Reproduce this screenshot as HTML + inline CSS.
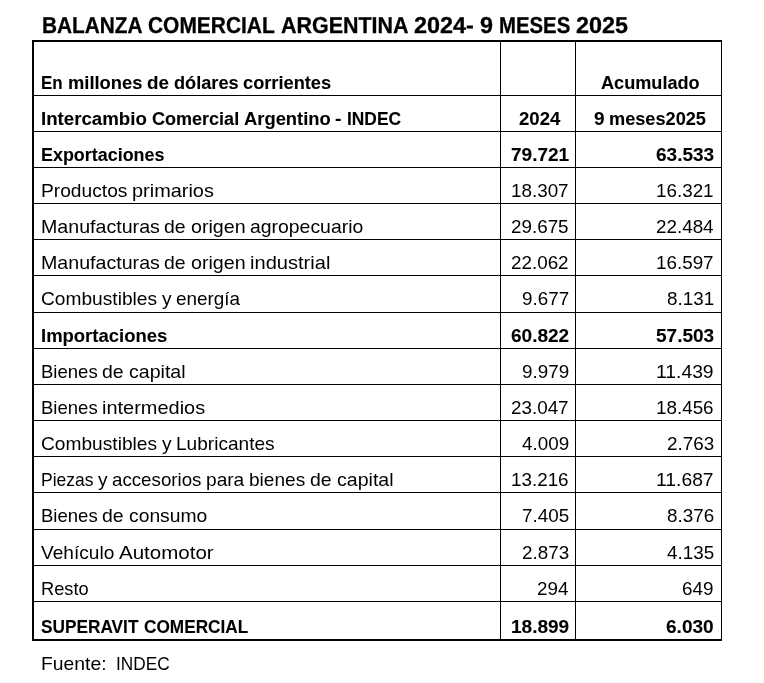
<!DOCTYPE html>
<html lang="es">
<head>
<meta charset="utf-8">
<title>Balanza Comercial Argentina 2024 - 9 meses 2025</title>
<style>
html,body{margin:0;padding:0;background:#fff}
body{position:relative;width:764px;height:683px;overflow:hidden;color:#000;
  font-family:"Liberation Sans",sans-serif;font-size:19px;line-height:24px;
  font-variant-ligatures:none}
h1{position:absolute;left:41.8px;top:10px;margin:0;font-size:23px;line-height:30px;
  font-weight:bold;white-space:nowrap;text-rendering:geometricPrecision;
  -webkit-text-stroke:0.3px #000}
table{position:absolute;left:32px;top:40px;width:690px;table-layout:fixed;
  border-collapse:separate;border-spacing:0;
  border-top:2px solid #000;border-left:2px solid #000}
td,th{box-sizing:border-box;padding:0 0 0px 0;margin:0;vertical-align:bottom;
  border-right:1px solid #000;border-bottom:1px solid #000;
  white-space:nowrap;overflow:visible;font-weight:normal;text-align:left}
tr.b td,tr.b th{font-weight:bold;-webkit-text-stroke:0.1px #000}
tr.u td,tr.u th{padding-bottom:1px}
tr:last-child td,tr:last-child th{border-bottom-width:2px}
.c1{padding-left:6.7px}
tr.b .c1{padding-left:7.3px}
.n{text-align:right;padding-right:6.3px}
td.n:last-child{padding-right:7.3px}
tr.b .n{padding-right:6px}
tr.b td.n:last-child{padding-right:7px}
.m{text-align:center;padding-left:3px}
span{display:inline-block;white-space:pre;text-align:left;transform-origin:0 100%}
p{position:absolute;left:40.7px;top:652px;margin:0;white-space:nowrap}
</style>
</head>
<body>
<h1><span style="width:106.42px;transform:scaleX(0.9051)">BALANZA </span><span style="width:132.56px;transform:scaleX(0.9101)">COMERCIAL </span><span style="width:133.34px;transform:scaleX(0.9328)">ARGENTINA </span><span style="width:65.67px;transform:scaleX(1.0178)">2024- </span><span style="width:18.81px;transform:scaleX(1.0171)">9 </span><span style="width:77.02px;transform:scaleX(0.8844)">MESES </span><span style="width:52.02px;transform:scaleX(1.0165)">2025</span></h1>
<table>
<colgroup><col style="width:467px"><col style="width:75px"><col style="width:146px"></colgroup>
<tbody>
<tr class="b" style="height:54px"><th scope="row" class="c1"><span style="width:26.41px;transform:scaleX(0.8906)">En </span><span style="width:79.23px;transform:scaleX(0.9659)">millones </span><span style="width:26.73px;transform:scaleX(0.9901)">de </span><span style="width:69.38px;transform:scaleX(0.9558)">dólares </span><span style="width:88.14px;transform:scaleX(0.9594)">corrientes</span></th><td></td><td class="m"><span style="width:98.64px;transform:scaleX(0.9535)">Acumulado</span></td></tr>
<tr class="b" style="height:36px"><th scope="row" class="c1"><span style="width:110.59px;transform:scaleX(0.9826)">Intercambio </span><span style="width:91.92px;transform:scaleX(0.9486)">Comercial </span><span style="width:91.55px;transform:scaleX(0.9673)">Argentino </span><span style="width:11.25px;transform:scaleX(1.0222)">- </span><span style="width:54.02px;transform:scaleX(0.9136)">INDEC</span></th><td class="m"><span style="width:41.28px;transform:scaleX(0.9763)">2024</span></td><td class="m"><span style="width:15.31px;transform:scaleX(1.0015)">9 </span><span style="width:96.98px;transform:scaleX(0.9561)">meses2025</span></td></tr>
<tr class="b" style="height:36px"><th scope="row" class="c1"><span style="width:123.45px;transform:scaleX(0.9428)">Exportaciones</span></th><td class="n"><span style="width:58.22px;transform:scaleX(1.0016)">79.721</span></td><td class="n"><span style="width:58.22px;transform:scaleX(1.0016)">63.533</span></td></tr>
<tr style="height:36px"><th scope="row" class="c1"><span style="width:91.20px;transform:scaleX(1.0102)">Productos </span><span style="width:81.88px;transform:scaleX(1.0480)">primarios</span></th><td class="n"><span style="width:57.61px;transform:scaleX(0.9911)">18.307</span></td><td class="n"><span style="width:57.61px;transform:scaleX(0.9911)">16.321</span></td></tr>
<tr style="height:36px"><th scope="row" class="c1"><span style="width:123.64px;transform:scaleX(1.0326)">Manufacturas </span><span style="width:26.38px;transform:scaleX(1.0222)">de </span><span style="width:59.47px;transform:scaleX(1.0355)">origen </span><span style="width:113.27px;transform:scaleX(1.0211)">agropecuario</span></th><td class="n"><span style="width:57.61px;transform:scaleX(0.9911)">29.675</span></td><td class="n"><span style="width:57.61px;transform:scaleX(0.9911)">22.484</span></td></tr>
<tr style="height:36px"><th scope="row" class="c1"><span style="width:123.64px;transform:scaleX(1.0326)">Manufacturas </span><span style="width:26.38px;transform:scaleX(1.0222)">de </span><span style="width:59.47px;transform:scaleX(1.0355)">origen </span><span style="width:80.38px;transform:scaleX(1.0569)">industrial</span></th><td class="n"><span style="width:57.61px;transform:scaleX(0.9911)">22.062</span></td><td class="n"><span style="width:57.61px;transform:scaleX(0.9911)">16.597</span></td></tr>
<tr class="u" style="height:37px"><th scope="row" class="c1"><span style="width:120.84px;transform:scaleX(1.0083)">Combustibles </span><span style="width:14.33px;transform:scaleX(1.0066)">y </span><span style="width:64.06px;transform:scaleX(0.9939)">energía</span></th><td class="n"><span style="width:47.14px;transform:scaleX(0.9915)">9.677</span></td><td class="n"><span style="width:47.14px;transform:scaleX(0.9915)">8.131</span></td></tr>
<tr class="b" style="height:36px"><th scope="row" class="c1"><span style="width:126.27px;transform:scaleX(0.9722)">Importaciones</span></th><td class="n"><span style="width:58.22px;transform:scaleX(1.0016)">60.822</span></td><td class="n"><span style="width:58.22px;transform:scaleX(1.0016)">57.503</span></td></tr>
<tr style="height:36px"><th scope="row" class="c1"><span style="width:61.45px;transform:scaleX(0.9755)">Bienes </span><span style="width:26.38px;transform:scaleX(1.0222)">de </span><span style="width:56.58px;transform:scaleX(1.0302)">capital</span></th><td class="n"><span style="width:47.14px;transform:scaleX(0.9915)">9.979</span></td><td class="n"><span style="width:57.61px;transform:scaleX(1.0160)">11.439</span></td></tr>
<tr style="height:36px"><th scope="row" class="c1"><span style="width:61.45px;transform:scaleX(0.9755)">Bienes </span><span style="width:103.14px;transform:scaleX(1.0501)">intermedios</span></th><td class="n"><span style="width:57.61px;transform:scaleX(0.9911)">23.047</span></td><td class="n"><span style="width:57.61px;transform:scaleX(0.9911)">18.456</span></td></tr>
<tr style="height:36px"><th scope="row" class="c1"><span style="width:120.84px;transform:scaleX(1.0083)">Combustibles </span><span style="width:14.33px;transform:scaleX(1.0066)">y </span><span style="width:98.62px;transform:scaleX(1.0040)">Lubricantes</span></th><td class="n"><span style="width:47.14px;transform:scaleX(0.9915)">4.009</span></td><td class="n"><span style="width:47.14px;transform:scaleX(0.9915)">2.763</span></td></tr>
<tr style="height:36px"><th scope="row" class="c1"><span style="width:57.19px;transform:scaleX(0.9189)">Piezas </span><span style="width:14.33px;transform:scaleX(1.0066)">y </span><span style="width:94.23px;transform:scaleX(0.9849)">accesorios </span><span style="width:43.02px;transform:scaleX(1.0058)">para </span><span style="width:61.06px;transform:scaleX(1.0053)">bienes </span><span style="width:26.38px;transform:scaleX(1.0222)">de </span><span style="width:56.58px;transform:scaleX(1.0302)">capital</span></th><td class="n"><span style="width:57.61px;transform:scaleX(0.9911)">13.216</span></td><td class="n"><span style="width:57.61px;transform:scaleX(1.0160)">11.687</span></td></tr>
<tr class="u" style="height:37px"><th scope="row" class="c1"><span style="width:61.45px;transform:scaleX(0.9755)">Bienes </span><span style="width:26.38px;transform:scaleX(1.0222)">de </span><span style="width:78.33px;transform:scaleX(1.0158)">consumo</span></th><td class="n"><span style="width:47.14px;transform:scaleX(0.9915)">7.405</span></td><td class="n"><span style="width:47.14px;transform:scaleX(0.9915)">8.376</span></td></tr>
<tr style="height:36px"><th scope="row" class="c1"><span style="width:78.14px;transform:scaleX(1.0062)">Vehículo </span><span style="width:94.66px;transform:scaleX(1.0799)">Automotor</span></th><td class="n"><span style="width:47.14px;transform:scaleX(0.9915)">2.873</span></td><td class="n"><span style="width:47.14px;transform:scaleX(0.9915)">4.135</span></td></tr>
<tr style="height:36px"><th scope="row" class="c1"><span style="width:47.62px;transform:scaleX(0.9594)">Resto</span></th><td class="n"><span style="width:31.44px;transform:scaleX(0.9916)">294</span></td><td class="n"><span style="width:31.44px;transform:scaleX(0.9916)">649</span></td></tr>
<tr class="b" style="height:39px"><th scope="row" class="c1"><span style="width:102.22px;transform:scaleX(0.9079)">SUPERAVIT </span><span style="width:104.30px;transform:scaleX(0.9064)">COMERCIAL</span></th><td class="n"><span style="width:58.22px;transform:scaleX(1.0016)">18.899</span></td><td class="n"><span style="width:47.69px;transform:scaleX(1.0030)">6.030</span></td></tr>
</tbody>
</table>
<p><span style="width:75.23px;transform:scaleX(1.0184)">Fuente:  </span><span style="width:53.61px;transform:scaleX(0.9067)">INDEC</span></p>
</body>
</html>
